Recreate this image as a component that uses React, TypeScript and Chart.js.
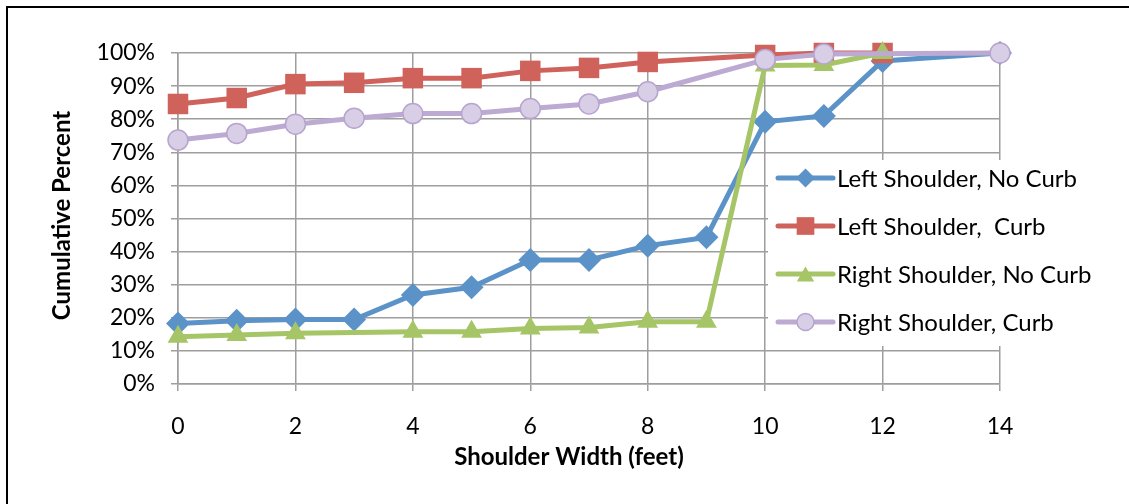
import React, { useEffect, useRef } from 'react';
import { Chart, registerables } from 'chart.js';

Chart.register(...registerables);

// ---- Data (percent values) ----
const xLeftNoCurb = [0, 1, 2, 3, 4, 5, 6, 7, 8, 9, 10, 11, 12, 14];
const yLeftNoCurb = [18.3, 19.1, 19.5, 19.5, 26.9, 29.2, 37.5, 37.5, 41.8, 44.3, 79.2, 81.0, 97.6, 100];

const xLeftCurb = [0, 1, 2, 3, 4, 5, 6, 7, 8, 10, 11, 12];
const yLeftCurb = [84.6, 86.4, 90.6, 91.0, 92.4, 92.4, 94.6, 95.5, 97.3, 99.4, 100, 100];

const xRightNoCurb = [0, 1, 2, 4, 5, 6, 7, 8, 9, 10, 11, 12];
const yRightNoCurb = [14.3, 14.8, 15.3, 15.8, 15.8, 16.8, 17.1, 18.8, 18.8, 96.2, 96.4, 100];

const xRightCurb = [0, 1, 2, 3, 4, 5, 6, 7, 8, 10, 11, 14];
const yRightCurb = [73.7, 75.7, 78.5, 80.3, 81.7, 81.7, 83.2, 84.6, 88.3, 98.0, 99.7, 100];

const seriesNames = [
  'Left Shoulder, No Curb',
  'Left Shoulder,  Curb',
  'Right Shoulder, No Curb',
  'Right Shoulder, Curb',
];

const xTickValues = [0, 2, 4, 6, 8, 10, 12, 14];
const yTickValues = [0, 10, 20, 30, 40, 50, 60, 70, 80, 90, 100];

const xTitle = 'Shoulder Width (feet)';
const yTitle = 'Cumulative Percent';

const FONT = 'Lato, "Open Sans", "DejaVu Sans", sans-serif';

type Style = {
  line: string;
  fill: string;
  stroke: string;
  shape: 'rectRot' | 'rect' | 'triangle' | 'circle';
  radius: number;
  legendRadius: number;
  borderWidth: number;
};

const styles: Style[] = [
  { line: '#5B93C9', fill: '#5B93C9', stroke: '#5B93C9', shape: 'rectRot', radius: 12, legendRadius: 9.5, borderWidth: 0 },
  { line: '#D0625C', fill: '#D0625C', stroke: '#D0625C', shape: 'rect', radius: 14.5, legendRadius: 12.5, borderWidth: 0 },
  { line: '#A6C566', fill: '#A6C566', stroke: '#A6C566', shape: 'triangle', radius: 12, legendRadius: 10, borderWidth: 0 },
  { line: '#BCAAD3', fill: '#D8CFE6', stroke: '#B7A4CF', shape: 'circle', radius: 10, legendRadius: 8.5, borderWidth: 1.5 },
];

function zip(xs: number[], ys: number[]) {
  return xs.map((x, i) => ({ x, y: ys[i] }));
}

function drawMarker(ctx: CanvasRenderingContext2D, s: Style, x: number, y: number, r: number) {
  ctx.save();
  ctx.beginPath();
  if (s.shape === 'rectRot') {
    ctx.moveTo(x - r, y);
    ctx.lineTo(x, y - r);
    ctx.lineTo(x + r, y);
    ctx.lineTo(x, y + r);
    ctx.closePath();
  } else if (s.shape === 'rect') {
    const h = r * Math.SQRT1_2;
    ctx.rect(x - h, y - h, 2 * h, 2 * h);
  } else if (s.shape === 'triangle') {
    const h = r * 1.5;
    const w = r * Math.sqrt(3);
    ctx.moveTo(x, y - h / 2);
    ctx.lineTo(x + w / 2, y + h / 2);
    ctx.lineTo(x - w / 2, y + h / 2);
    ctx.closePath();
  } else {
    ctx.arc(x, y, r, 0, Math.PI * 2);
  }
  ctx.fillStyle = s.fill;
  ctx.fill();
  if (s.borderWidth > 0) {
    ctx.lineWidth = s.borderWidth;
    ctx.strokeStyle = s.stroke;
    ctx.stroke();
  }
  ctx.restore();
}

const overlayPlugin = {
  id: 'overlay',
  afterDraw(chart: any) {
    const ctx: CanvasRenderingContext2D = chart.ctx;
    const a = chart.chartArea;
    ctx.save();
    // legend box
    const boxLeft = a.right - 232;
    const boxTop = a.top + 107;
    ctx.fillStyle = '#ffffff';
    ctx.fillRect(boxLeft, boxTop, 340, 186);
    const lineX0 = a.right - 222;
    const lineX1 = lineX0 + 55;
    for (let i = 0; i < seriesNames.length; i++) {
      const s = styles[i];
      const y = a.top + 125 + i * 48;
      ctx.beginPath();
      ctx.moveTo(lineX0, y);
      ctx.lineTo(lineX1, y);
      ctx.strokeStyle = s.line;
      ctx.lineWidth = 5;
      ctx.lineCap = 'round';
      ctx.stroke();
      drawMarker(ctx, s, (lineX0 + lineX1) / 2, y, s.legendRadius);
      ctx.fillStyle = '#000';
      ctx.font = `24px ${FONT}`;
      ctx.textAlign = 'left';
      ctx.textBaseline = 'middle';
      ctx.fillText(seriesNames[i], lineX1 + 4, y + 1);
    }
    // axis titles
    ctx.fillStyle = '#000';
    ctx.font = `bold 24px ${FONT}`;
    ctx.textAlign = 'center';
    ctx.textBaseline = 'middle';
    ctx.fillText(xTitle, (a.left + a.right) / 2 - 20, a.bottom + 73);
    ctx.translate(62, (a.top + a.bottom) / 2 - 3);
    ctx.rotate(-Math.PI / 2);
    ctx.fillText(yTitle, 0, 0);
    ctx.restore();
  },
};

export default function App() {
  const ref = useRef<HTMLCanvasElement | null>(null);

  useEffect(() => {
    if (!ref.current) return;
    const rawData = [
      zip(xLeftNoCurb, yLeftNoCurb),
      zip(xLeftCurb, yLeftCurb),
      zip(xRightNoCurb, yRightNoCurb),
      zip(xRightCurb, yRightCurb),
    ];
    const datasets = rawData.map((d, i) => ({
      label: seriesNames[i],
      data: d,
      borderColor: styles[i].line,
      backgroundColor: styles[i].fill,
      borderWidth: 5,
      pointStyle: styles[i].shape,
      pointRadius: styles[i].radius,
      pointHoverRadius: styles[i].radius,
      pointBackgroundColor: styles[i].fill,
      pointBorderColor: styles[i].stroke,
      pointBorderWidth: styles[i].borderWidth,
      tension: 0,
      clip: false as any,
      order: 4 - i,
    }));

    const chart = new Chart(ref.current, {
      type: 'line',
      data: { datasets },
      plugins: [overlayPlugin],
      options: {
        animation: false,
        responsive: false,
        events: [],
        layout: { padding: { left: 0, top: 53, right: 129, bottom: 0 } },
        plugins: { legend: { display: false }, tooltip: { enabled: false } },
        scales: {
          x: {
            type: 'linear',
            min: 0,
            max: 14,
            afterBuildTicks: (scale: any) => {
              scale.ticks = xTickValues.map((v) => ({ value: v }));
            },
            afterFit: (scale: any) => {
              scale.height = 120;
            },
            grid: { color: '#9E9E9E', lineWidth: 1.5, tickLength: 7, drawTicks: true },
            border: { color: '#9E9E9E', width: 1.5 },
            ticks: {
              color: '#000',
              font: { family: FONT, size: 23 },
              padding: 22,
              maxRotation: 0,
              autoSkip: false,
              callback: (v: any) => String(v),
            },
          },
          y: {
            type: 'linear',
            min: 0,
            max: 100,
            afterBuildTicks: (scale: any) => {
              scale.ticks = yTickValues.map((v) => ({ value: v }));
            },
            afterFit: (scale: any) => {
              scale.width = 178;
            },
            grid: { color: '#9E9E9E', lineWidth: 1.5, tickLength: 7, drawTicks: true },
            border: { color: '#9E9E9E', width: 1.5 },
            ticks: {
              color: '#000',
              font: { family: FONT, size: 23 },
              padding: 16,
              autoSkip: false,
              callback: (v: any) => v + '%',
            },
          },
        },
      },
    });
    return () => chart.destroy();
  }, []);

  return (
    <div style={{ position: 'absolute', left: 0, top: 0, width: 1129, height: 504, overflow: 'hidden', background: '#fff' }}>
      <canvas ref={ref} width={1129} height={504} style={{ position: 'absolute', left: 0, top: 0 }} />
      <div
        style={{
          position: 'absolute',
          left: 6,
          top: 6,
          width: 1400,
          height: 800,
          borderLeft: '2px solid #000',
          borderTop: '2px solid #000',
          pointerEvents: 'none',
        }}
      />
    </div>
  );
}
